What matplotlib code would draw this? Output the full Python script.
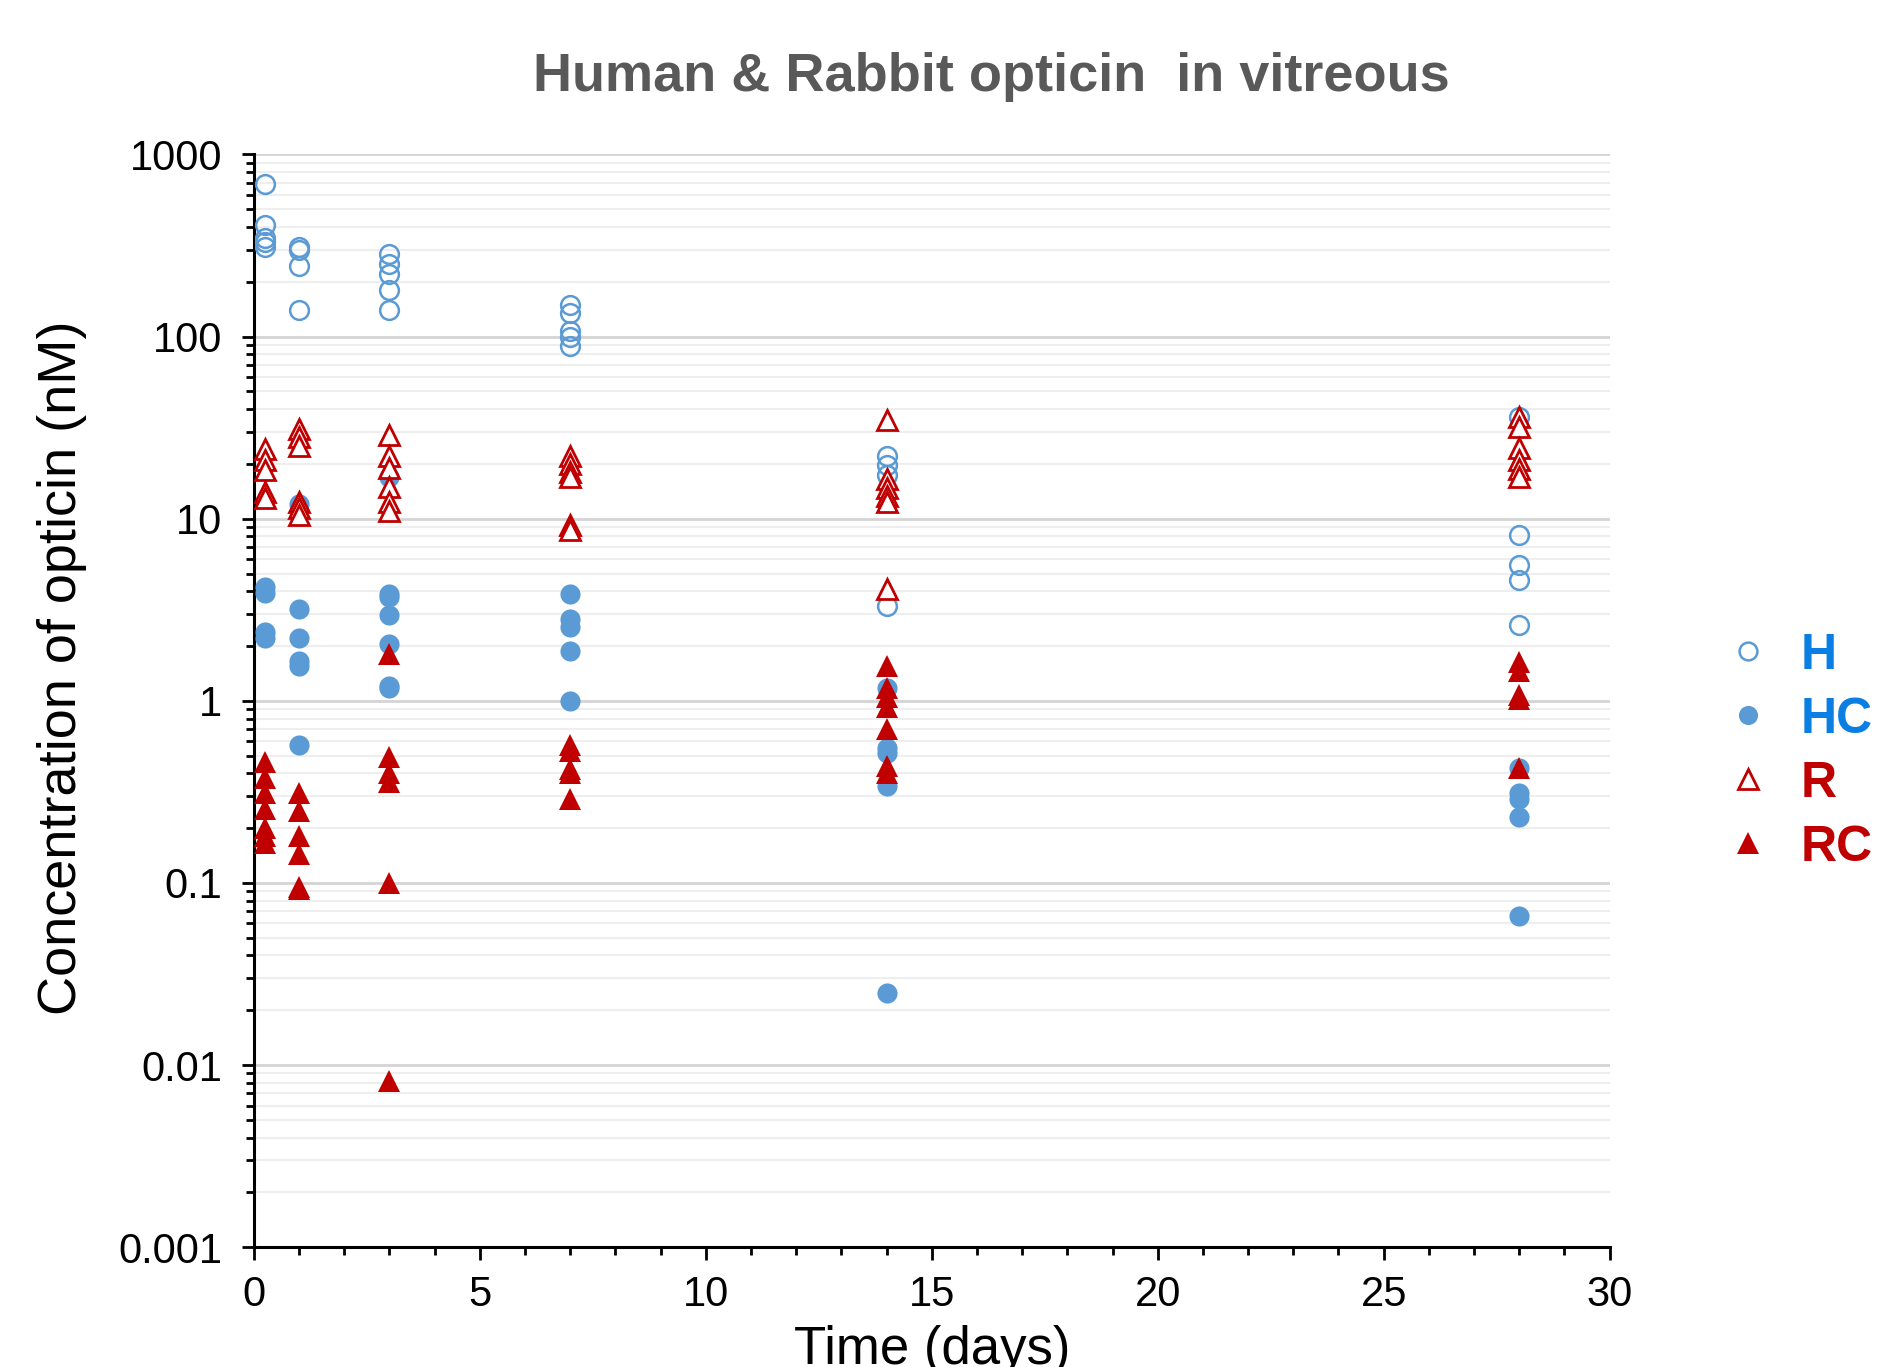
import matplotlib
matplotlib.use("Agg")
import matplotlib.pyplot as plt
import numpy as np
from matplotlib.ticker import MultipleLocator, FuncFormatter, LogLocator, NullFormatter

plt.rcParams['font.family'] = ['Liberation Sans', 'DejaVu Sans']

# sampling days (time in days)
days = [0.25, 1, 3, 7, 14, 28]

# concentration values (nM) per day
h_vals = [
    [690, 410, 350, 330, 310],
    [310, 300, 245, 140],
    [285, 250, 220, 180, 140],
    [150, 135, 108, 100, 89],
    [22, 19.7, 17.4, 3.3],
    [36, 8.1, 5.6, 4.6, 2.6],
]
hc_vals = [
    [4.2, 3.9, 2.4, 2.2],
    [12, 3.2, 2.2, 1.65, 1.55, 0.57],
    [17, 3.85, 3.7, 2.97, 2.05, 1.2, 1.18],
    [3.85, 2.8, 2.55, 1.88, 1.0],
    [1.17, 0.55, 0.52, 0.34, 0.025],
    [0.43, 0.31, 0.29, 0.23, 0.066],
]
r_vals = [
    [24, 21, 18.5, 14, 13],
    [31, 28, 25, 12.3, 11.5, 10.5],
    [29, 22, 19, 15, 12.3, 11],
    [22, 20, 18, 17, 9.2, 8.7],
    [35, 16.5, 14.8, 13.3, 12.3, 4.1],
    [36, 32, 24.5, 21, 18.7, 17],
]
rc_vals = [
    [0.46, 0.375, 0.31, 0.255, 0.2, 0.18, 0.165],
    [0.31, 0.25, 0.18, 0.145, 0.095, 0.093],
    [1.8, 0.49, 0.40, 0.36, 0.1, 0.0082],
    [0.57, 0.53, 0.42, 0.40, 0.29],
    [1.55, 1.17, 1.05, 0.92, 0.70, 0.44, 0.40],
    [1.63, 1.45, 1.08, 1.03, 0.43],
]

blue = '#5B9BD5'
red = '#C00000'


def flat(vals):
    xs = []
    ys = []
    for d, v in zip(days, vals):
        xs += [d] * len(v)
        ys += v
    return xs, ys


fig = plt.figure(figsize=(18.78, 13.67), dpi=100)
ax = fig.add_axes([0.1352, 0.0876, 0.7219, 0.7994])

x, y = flat(h_vals)
l_h, = ax.plot(x, y, 'o', ms=13.5, mfc='none', mec=blue, mew=1.8, ls='none', label='H', zorder=3)
x, y = flat(hc_vals)
l_hc, = ax.plot(x, y, 'o', ms=14.5, mfc=blue, mec=blue, mew=0, ls='none', label='HC', zorder=3)
x, y = flat(r_vals)
l_r, = ax.plot(x, y, '^', ms=15, mfc='white', mec=red, mew=2.0, ls='none', label='R', zorder=3)
x, y = flat(rc_vals)
l_rc, = ax.plot(x, y, '^', ms=16, mfc=red, mec=red, mew=0, ls='none', label='RC', zorder=3)

ax.set_yscale('log')
ax.set_ylim(0.001, 1000)
ax.set_xlim(0, 30)

ax.yaxis.set_major_locator(LogLocator(base=10, numticks=10))
ax.yaxis.set_minor_locator(LogLocator(base=10, subs=np.arange(2, 10), numticks=20))
ax.yaxis.set_major_formatter(FuncFormatter(lambda v, p: '%g' % v))
ax.yaxis.set_minor_formatter(NullFormatter())
ax.xaxis.set_major_locator(MultipleLocator(5))
ax.xaxis.set_minor_locator(MultipleLocator(1))

ax.grid(True, which='major', axis='y', color='#D4D4D4', lw=2, zorder=0)
ax.grid(True, which='minor', axis='y', color='#EEEEEE', lw=1.5, zorder=0)
ax.set_axisbelow(True)

for s in ['top', 'right']:
    ax.spines[s].set_visible(False)
for s in ['left', 'bottom']:
    ax.spines[s].set_linewidth(2.2)
    ax.spines[s].set_color('black')

ax.tick_params(axis='both', which='major', direction='out', length=9, width=2, labelsize=30, colors='black')
ax.tick_params(axis='both', which='minor', direction='out', length=6, width=2)
ax.tick_params(axis='y', which='major', pad=14)
ax.tick_params(axis='x', which='major', pad=11)

ax.set_ylabel('Concentration of opticin (nM)', fontsize=39)
ax.yaxis.set_label_coords(-0.123, 0.53)
ax.set_xlabel('Time (days)', fontsize=38)
ax.xaxis.set_label_coords(0.5, -0.071)

fig.text(0.528, 0.944, 'Human & Rabbit opticin  in vitreous', fontsize=39, fontweight='bold',
         color='#595959', ha='center', va='center')

leg = fig.legend(handles=[l_h, l_hc, l_r, l_rc], loc='center left', bbox_to_anchor=(0.907, 0.450),
                 frameon=False, fontsize=36, markerscale=0.95, handlelength=1.0, handletextpad=0.55,
                 labelspacing=0.36, borderaxespad=0)
for t, c in zip(leg.get_texts(), ['#0A7FE3', '#0A7FE3', red, red]):
    t.set_color(c)
    t.set_fontweight('bold')

fig.savefig('out.png', dpi=100)
